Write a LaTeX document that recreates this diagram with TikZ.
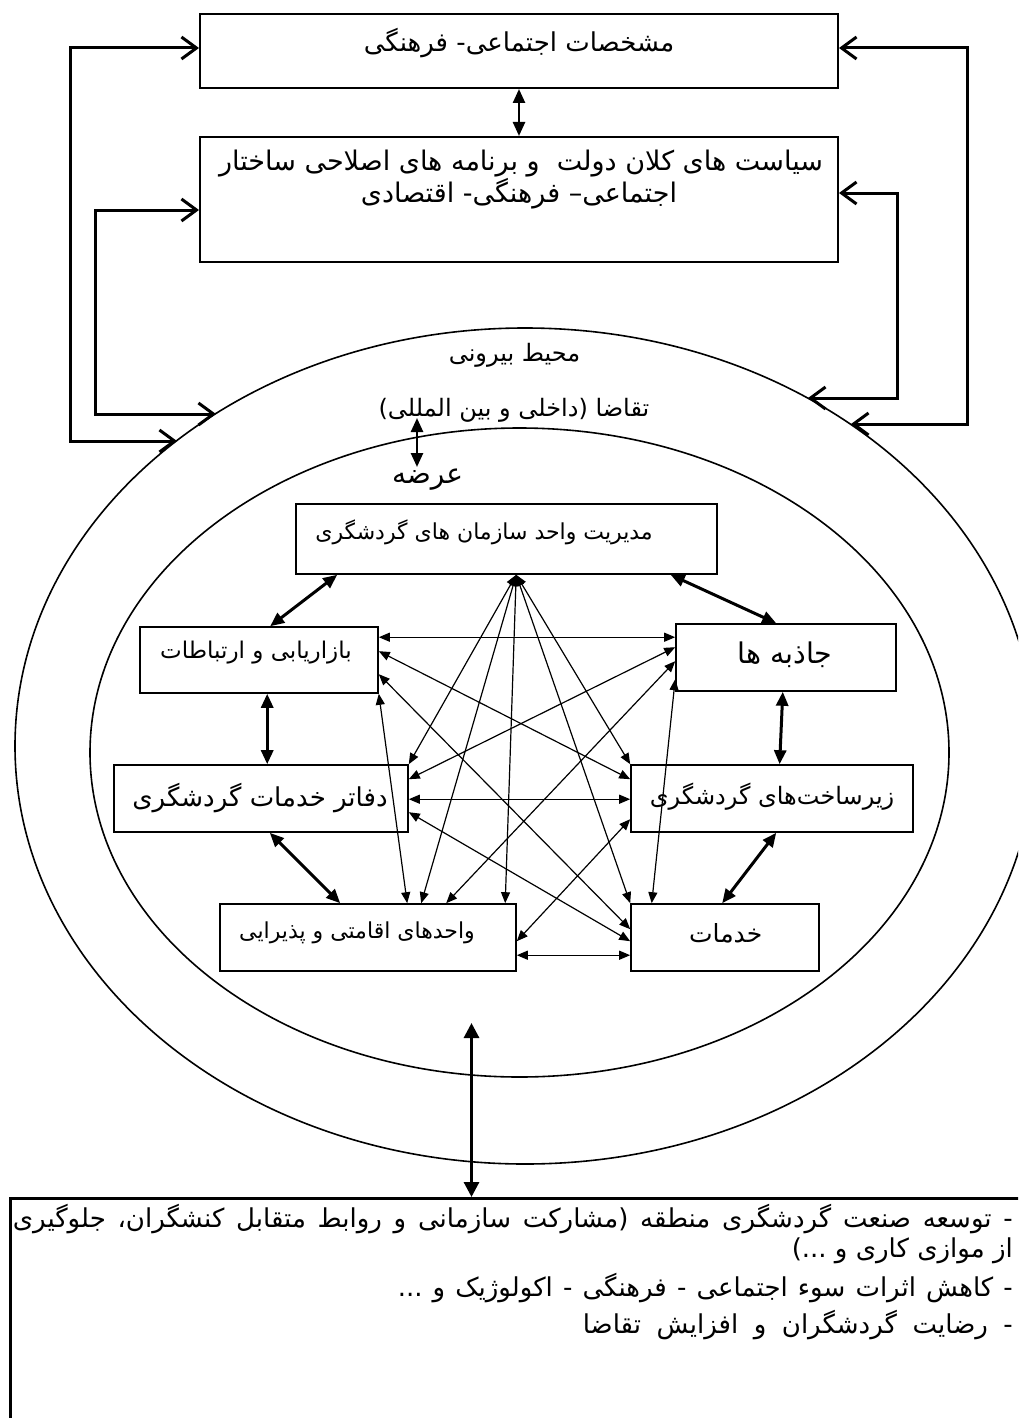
\documentclass[tikz,border=0pt]{standalone}
\usepackage{fontspec}
\usetikzlibrary{arrows.meta,calc,shapes.geometric}
\TeXXeTstate=1
\newfontfamily\fa[Script=Arabic]{DejaVu Sans}
\newcommand\myfs[1]{\fontsize{#1pt}{#1pt}\selectfont}
\begin{document}
\begin{tikzpicture}[x=1pt,y=-1pt,
  box/.style={draw, rectangle, line width=1.6pt, inner sep=0pt},
  bigbox/.style={box, line width=2pt},
  ring/.style={draw, ellipse, line width=1.6pt, inner sep=0pt},
  txt/.style={inner sep=0pt, font=\fa},
  barb/.style={line width=3pt, line join=miter, {Straight Barb[length=15pt,width=22pt]}-{Straight Barb[length=15pt,width=22pt]}},
  thinarr/.style={line width=1.2pt, {Triangle[length=11pt,width=9pt]}-{Triangle[length=11pt,width=9pt]}},
  heavyarr/.style={line width=3pt, {Triangle[length=14pt,width=12pt]}-{Triangle[length=14pt,width=12pt]}},
  midarr/.style={line width=2.5pt, {Triangle[length=14pt,width=12pt]}-{Triangle[length=14pt,width=12pt]}},
  bigarr/.style={line width=3pt, {Triangle[length=15pt,width=15pt]}-{Triangle[length=15pt,width=15pt]}},
]
\useasboundingbox (0,0) rectangle (1018,1418);
\clip (0,0) rectangle (1018,1418);
\fill[white] (0,0) rectangle (1018,1418);

% boxes
\node[bigbox, minimum width=638pt, minimum height=74pt] (top) at (519,51) {};
\node[bigbox, minimum width=638pt, minimum height=125pt] (pol) at (519,199.5) {};
\node[ring, minimum width=1020pt, minimum height=836pt] (outer) at (525,746) {};
\node[ring, minimum width=859pt, minimum height=649pt] (inner) at (519.5,752.5) {};
\node[box, minimum width=421pt, minimum height=70pt] (mgmt) at (506.5,539) {};
\node[box, minimum width=238pt, minimum height=66pt] (bazar) at (259,660) {};
\node[box, minimum width=220pt, minimum height=67pt] (jazeb) at (786,657.5) {};
\node[box, minimum width=294pt, minimum height=67pt] (dafater) at (261,798.5) {};
\node[box, minimum width=282pt, minimum height=67pt] (zir) at (772,798.5) {};
\node[box, minimum width=296pt, minimum height=67pt] (vahed) at (368,937.5) {};
\node[box, minimum width=188pt, minimum height=67pt] (khad) at (725,937.5) {};
\node[draw, line width=2.5pt, inner sep=0pt, minimum width=1040pt, minimum height=300pt, anchor=north west] (res) at (9,1197) {};

% texts
\node[txt] (tTop) at (519,43.5) {\myfs{26}\beginR مشخصات اجتماعی- فرهنگی\endR};
\node[txt] (tPol1) at (521,163.5) {\myfs{27}\beginR سیاست های کلان دولت \ و برنامه های اصلاحی ساختار\endR};
\node[txt] (tPol2) at (519,194) {\myfs{27}\beginR اجتماعی– فرهنگی- اقتصادی\endR};
\node[txt] (tMohit) at (514.5,355) {\myfs{24}\beginR محیط بیرونی\endR};
\node[txt] (tTaq) at (514,410) {\myfs{24}\beginR تقاضا (داخلی و بین المللی)\endR};
\node[txt] (tArz) at (427.5,480) {\myfs{28}\beginR عرضه\endR};
\node[txt] (tMgmt) at (484,532) {\myfs{22}\beginR مدیریت واحد سازمان های گردشگری\endR};
\node[txt] (tBazar) at (256,653) {\myfs{23}\beginR بازاریابی و ارتباطات\endR};
\node[txt] (tJazeb) at (785,655) {\myfs{28.5}\beginR جاذبه ها\endR};
\node[txt] (tDaf) at (260,798) {\myfs{26}\beginR دفاتر خدمات گردشگری\endR};
\node[txt] (tZir) at (772,797) {\myfs{24}\beginR زیرساخت^^^^200cهای گردشگری\endR};
\node[txt] (tVahed) at (357,933) {\myfs{22}\beginR واحدهای اقامتی و پذیرایی\endR};
\node[txt] (tKhad) at (725.7,933) {\myfs{25}\beginR خدمات\endR};
\node[txt, anchor=east] (r1) at (1013,1219) {\myfs{26}\hbox to 1000pt{\beginR - توسعه صنعت گردشگری منطقه (مشارکت سازمانی و روابط متقابل کنشگران، جلوگیری\endR}};
\node[txt, anchor=east] (r2) at (1013,1251) {\myfs{26}\beginR از موازی کاری و ...)\endR};
\node[txt, anchor=east] (r3) at (1013,1288) {\myfs{26}\hbox to 615pt{\beginR - کاهش اثرات سوء اجتماعی - فرهنگی - اکولوژیک و ...\endR}};
\node[txt, anchor=east] (r4) at (1013,1325) {\myfs{26}\hbox to 430pt{\beginR - رضایت گردشگران و افزایش تقاضا\endR}};

% coordinates on the outer ring
\coordinate (eOL) at (177,441);
\coordinate (eIL) at (216,414);
\coordinate (eOR) at (851,424);
\coordinate (eIR) at (808,398);
\coordinate (dTop) at (417,418);
\coordinate (dBot) at (417,467);
\coordinate (bigTop) at (471.5,1023);
\coordinate (apex) at ($(mgmt.south west)+(221,0)$);

% side connectors
\draw[barb] (eOL) -- ++(-107,0) |- ([yshift=3pt]top.west);
\draw[barb] (eIL) -- ++(-121,0) |- ([yshift=-10.5pt]pol.west);
\draw[barb] (eOR) -- ++(116,0) |- ([yshift=3pt]top.east);
\draw[barb] (eIR) -- ++(89,0) |- ([yshift=6.5pt]pol.east);
\draw[midarr] (top.south) -- (pol.north);
\draw[midarr] (dTop) -- (dBot);
\draw[bigarr] (bigTop) -- (bigTop |- res.north);

% heavy neighbour arrows
\draw[heavyarr] ($(mgmt.south west)+(42,0)$) -- ($(bazar.north west)+(131,0)$);
\draw[heavyarr] ($(mgmt.south west)+(375.5,0)$) -- ($(jazeb.north west)+(101,0)$);
\draw[heavyarr] ($(bazar.south west)+(128,0)$) -- ($(dafater.north west)+(154,0)$);
\draw[heavyarr] ($(jazeb.south west)+(107.6,0)$) -- ($(zir.north west)+(149.4,0)$);
\draw[heavyarr] ($(dafater.south west)+(156.6,0)$) -- ($(vahed.north west)+(121,0)$);
\draw[heavyarr] ($(zir.south west)+(146,0)$) -- ($(khad.north west)+(92,0)$);

% thin arrows
\draw[thinarr] ($(bazar.north east)+(0,11)$) -- ($(jazeb.north west)+(0,14)$);
\draw[thinarr] ($(dafater.north east)+(0,35)$) -- ($(zir.north west)+(0,35)$);
\draw[thinarr] ($(vahed.north east)+(0,52)$) -- ($(khad.north west)+(0,52)$);
\draw[thinarr] (apex) -- (dafater.north east);
\draw[thinarr] (apex) -- ($(vahed.north west)+(202,0)$);
\draw[thinarr] (apex) -- ($(vahed.north west)+(286,0)$);
\draw[thinarr] (apex) -- (zir.north west);
\draw[thinarr] (apex) -- (khad.north west);
\draw[thinarr] ($(bazar.north east)+(0,25)$) -- ($(zir.north west)+(0,15)$);
\draw[thinarr] ($(bazar.north east)+(0,48)$) -- ($(khad.north west)+(0,26)$);
\draw[thinarr] (bazar.south east) -- ($(vahed.north west)+(188,0)$);
\draw[thinarr] ($(jazeb.north west)+(0,24)$) -- ($(dafater.north east)+(0,15)$);
\draw[thinarr] ($(jazeb.north west)+(0,38)$) -- ($(vahed.north west)+(227,0)$);
\draw[thinarr] ($(jazeb.north west)+(0,56)$) -- ($(khad.north west)+(21.5,0)$);
\draw[thinarr] ($(dafater.north east)+(0,48)$) -- ($(khad.north west)+(0,38)$);
\draw[thinarr] ($(zir.north west)+(0,55)$) -- ($(vahed.north east)+(0,38)$);
\end{tikzpicture}
\end{document}
